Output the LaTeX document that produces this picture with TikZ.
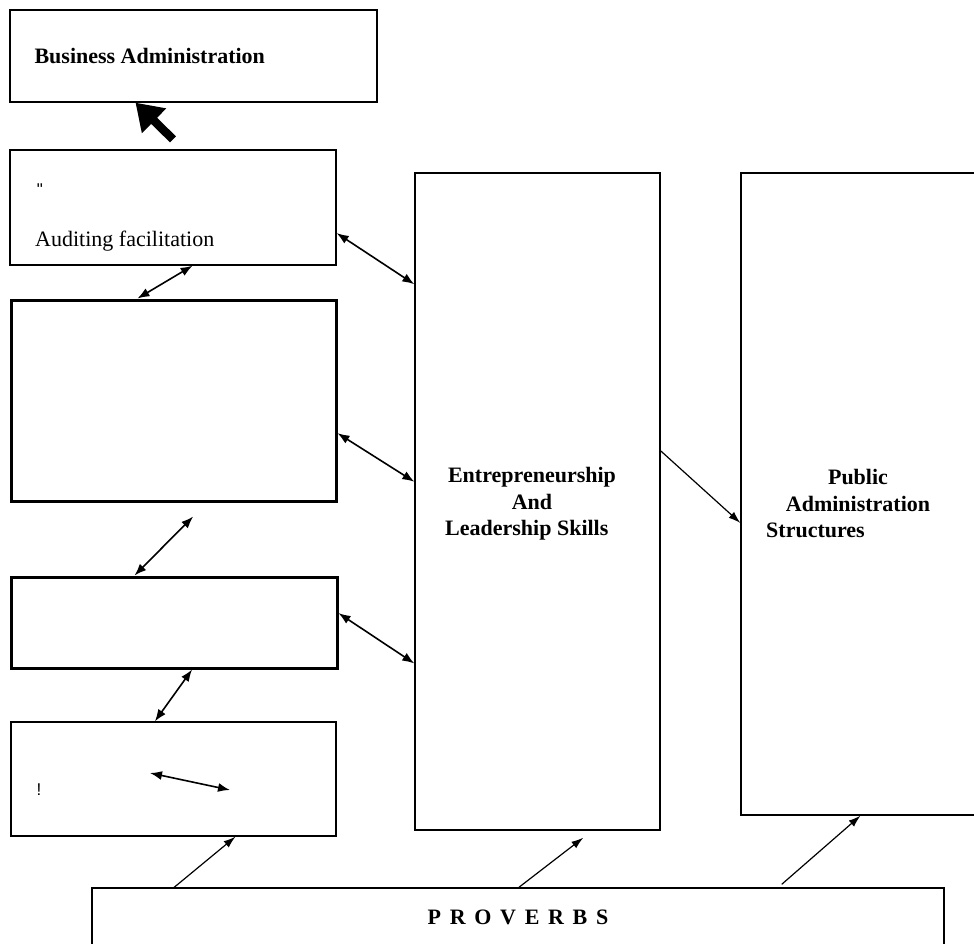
\documentclass[tikz,border=0pt]{standalone}
\usepackage{fontspec}
\setmainfont{Liberation Serif}
\newfontfamily\rawsans{Liberation Sans}[Ligatures=TeXOff]
\usetikzlibrary{arrows.meta,positioning,calc}

\begin{document}
\begin{tikzpicture}[x=1pt, y=-1pt,
  box/.style={draw, line width=1.3pt, rectangle, inner sep=0pt},
  thickbox/.style={draw, line width=3pt, rectangle, inner sep=0pt},
  bold text/.style={font=\fontsize{22}{27}\selectfont\bfseries, inner sep=0pt},
  plain text/.style={font=\fontsize{22}{27}\selectfont, inner sep=0pt},
  tiny text/.style={font=\rawsans\fontsize{17}{19}\selectfont, inner sep=0pt},
  link/.style={line width=1.6pt, {Latex[length=12pt,width=9pt]}-{Latex[length=12pt,width=9pt]}},
  feed/.style={line width=1.2pt, -{Latex[length=12pt,width=8pt]}},
  big arrow/.style={line width=8.5pt, -{Triangle[length=26pt,width=33pt]}}]
\useasboundingbox (0,0) rectangle (974,943);
\clip (0,0) rectangle (974,943);

%Left column
\node[box, minimum width=367pt, minimum height=92pt] (bus) at (193.5,56) {};
\node[box, minimum width=326pt, minimum height=115pt] (aud) at (173,207.5) {};
\node[thickbox, minimum width=325pt, minimum height=201pt] (boxA) at (173.5,400.5) {};
\node[thickbox, minimum width=326pt, minimum height=91pt] (boxB) at (174,622.5) {};
\node[box, minimum width=325pt, minimum height=114pt] (boxC) at (173.5,779) {};
%Right columns
\node[box, minimum width=245pt, minimum height=657pt] (ent) at (537.5,501.5) {};
\node[box, minimum width=249pt, minimum height=642pt] (pub) at (865.5,494) {};
\node[box, bold text, minimum width=852pt, minimum height=58pt] (prov) at (518,917)
  {\spaceskip=8.7pt P R O V E R B S};

%Texts
\node[bold text, right=25pt of bus.west] (busTxt) {Business Administration};
\node[tiny text] (quoteTxt) at (40,190) {"};
\node[plain text, anchor=west] (audTxt) at (35,241) {Auditing facilitation};
\node[tiny text] (bangTxt) at (39,790) {!};
\node[bold text, align=center] (entTxt) at (532,488) {Entrepreneurship\\And};
\node[bold text, anchor=west] (entTxt2) at (445,530) {Leadership Skills};
\node[bold text, align=center] (pubTxt) at (858,490) {Public\\Administration};
\node[bold text, anchor=west] (pubTxt2) at (766,530) {Structures};

\coordinate (innerL) at (150,773);
\coordinate (innerR) at (230,790);

%Arrows
\draw[big arrow] ([yshift=10pt]aud.north) -- ([xshift=-58pt]bus.south);
\draw[link] ($(aud.north east)!0.72!(aud.south east)$) -- ($(ent.north west)!0.17!(ent.south west)$);
\draw[link] ($(aud.south west)!0.56!(aud.south east)$) -- ($(boxA.north west)!0.39!(boxA.north east)$);
\draw[link] ($(boxA.north east)!0.66!(boxA.south east)$) -- ($(ent.north west)!0.47!(ent.south west)$);
\draw[link] ($(boxA.south west)!0.56!(boxA.south east)+(0,14)$) -- ($(boxB.north west)!0.38!(boxB.north east)$);
\draw[link] ($(boxB.north east)!0.4!(boxB.south east)$) -- ($(ent.north west)!0.746!(ent.south west)$);
\draw[link] ($(boxB.south west)!0.555!(boxB.south east)$) -- ($(boxC.north west)!0.443!(boxC.north east)$);
\draw[link] (innerL) -- (innerR);
\draw[feed] ($(ent.north east)!0.423!(ent.south east)$) -- ($(pub.north west)!0.545!(pub.south west)$);
%From proverbs
\draw[feed] ($(prov.north west)!0.097!(prov.north east)$) -- ($(boxC.south west)!0.69!(boxC.south east)$);
\draw[feed] ($(prov.north west)!0.501!(prov.north east)$) -- ($(ent.south west)!0.686!(ent.south east)+(0,7)$);
\draw[feed] ($(prov.north west)!0.809!(prov.north east)+(0,-3)$) -- ($(pub.south west)!0.48!(pub.south east)$);

\end{tikzpicture}
\end{document}
